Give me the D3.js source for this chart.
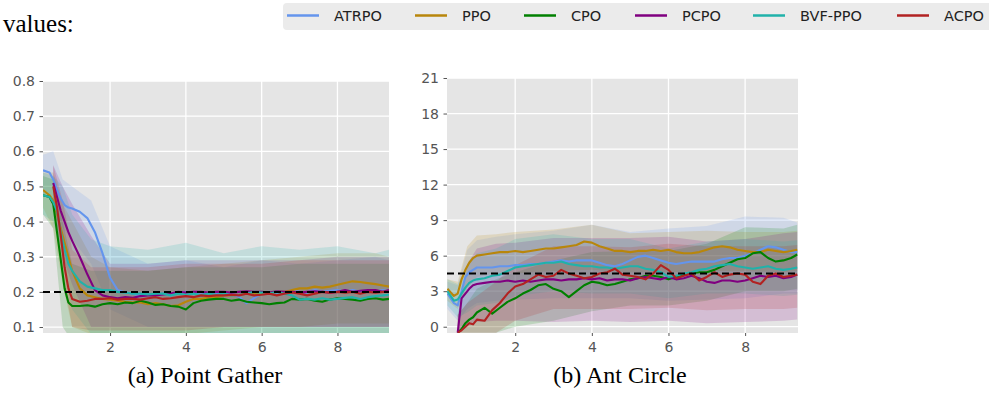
<!DOCTYPE html>
<html>
<head>
<meta charset="utf-8">
<script src="https://cdn.jsdelivr.net/npm/d3@7"></script>
<style>
body { margin: 0; background: #fff; }
</style>
</head>
<body onload="body_ready()">
<div id="container"></div>
<script>
// legend entries and colours
var methods = ["ATRPO", "PPO", "CPO", "PCPO", "BVF-PPO", "ACPO"];
var colors = ["#6495ed", "#b8860b", "#008000", "#800080", "#20b2aa", "#b22222"];

// x positions of the mean curves (both tasks)
var steps = [0.23, 0.4, 0.5, 0.6, 0.7, 0.8, 0.9, 1.0, 1.2, 1.4, 1.6, 1.8, 2.0, 2.2, 2.4, 2.6, 2.8, 3.0, 3.2, 3.4,
	3.6, 3.8, 4.0, 4.2, 4.4, 4.6, 4.8, 5.0, 5.2, 5.4, 5.6, 5.8, 6.0, 6.2, 6.4, 6.6, 6.8, 7.0, 7.2, 7.4,
	7.6, 7.8, 8.0, 8.2, 8.4, 8.6, 8.8, 9.0, 9.2, 9.36];
// x positions of the shaded bands
var band_steps = [0.23, 0.5, 0.75, 1.0, 1.5, 2.0, 3, 4, 5, 6, 7, 8, 9, 9.36];

// (a) Point Gather, mean curves
var gather_atrpo = [0.546, 0.54, 0.52, 0.49, 0.465, 0.447, 0.44, 0.437, 0.428, 0.41, 0.37, 0.31, 0.24, 0.205, 0.198, 0.195, 0.19, 0.193, 0.19, 0.195,
	0.19, 0.196, 0.2, 0.195, 0.198, 0.193, 0.196, 0.19, 0.195, 0.186, 0.168, 0.182, 0.195, 0.2, 0.198, 0.2, 0.205, 0.2, 0.198, 0.205,
	0.2, 0.203, 0.205, 0.2, 0.205, 0.2, 0.205, 0.2, 0.205, 0.2];
var gather_ppo = [0.49, 0.475, 0.46, 0.42, 0.38, 0.34, 0.3, 0.26, 0.21, 0.19, 0.185, 0.18, 0.178, 0.175, 0.172, 0.17, 0.17, 0.165, 0.168, 0.165,
	0.16, 0.162, 0.172, 0.18, 0.18, 0.185, 0.185, 0.19, 0.19, 0.192, 0.195, 0.195, 0.195, 0.198, 0.2, 0.2, 0.205, 0.21, 0.21, 0.215,
	0.212, 0.215, 0.22, 0.225, 0.23, 0.228, 0.225, 0.222, 0.218, 0.215];
var gather_cpo = [0.475, 0.47, 0.45, 0.37, 0.29, 0.21, 0.17, 0.16, 0.16, 0.162, 0.158, 0.165, 0.168, 0.165, 0.17, 0.168, 0.175, 0.17, 0.163, 0.165,
	0.16, 0.158, 0.15, 0.168, 0.175, 0.178, 0.18, 0.18, 0.175, 0.178, 0.172, 0.17, 0.168, 0.165, 0.168, 0.17, 0.18, 0.178, 0.18, 0.175,
	0.172, 0.178, 0.182, 0.18, 0.178, 0.175, 0.18, 0.182, 0.178, 0.18];
var gather_pcpo = [null, null, 0.51, 0.47, 0.43, 0.4, 0.37, 0.345, 0.3, 0.25, 0.205, 0.19, 0.185, 0.182, 0.185, 0.183, 0.188, 0.19, 0.19, 0.193,
	0.195, 0.2, 0.198, 0.2, 0.2, 0.198, 0.2, 0.2, 0.198, 0.2, 0.202, 0.2, 0.2, 0.198, 0.202, 0.2, 0.2, 0.198, 0.2, 0.202,
	0.2, 0.198, 0.2, 0.205, 0.2, 0.203, 0.205, 0.205, 0.2, 0.205];
var gather_bvf = [0.475, 0.47, 0.455, 0.43, 0.37, 0.32, 0.28, 0.26, 0.23, 0.215, 0.21, 0.205, 0.205, 0.2, 0.198, 0.195, 0.195, 0.193, 0.195, 0.195,
	0.19, 0.195, 0.192, 0.195, 0.19, 0.195, 0.192, 0.195, 0.19, 0.192, 0.195, 0.2, 0.198, 0.195, 0.2, 0.195, 0.19, 0.178, 0.18, 0.178,
	0.182, 0.178, 0.18, 0.183, 0.185, 0.18, 0.185, 0.188, 0.19, 0.192];
var gather_acpo = [null, null, 0.5, 0.44, 0.36, 0.27, 0.21, 0.18, 0.172, 0.175, 0.18, 0.18, 0.182, 0.178, 0.18, 0.18, 0.178, 0.182, 0.185, 0.18,
	0.182, 0.185, 0.188, 0.185, 0.19, 0.188, 0.19, 0.19, 0.192, 0.19, 0.195, 0.19, 0.192, 0.195, 0.19, 0.195, 0.198, 0.195, 0.19, 0.195,
	0.2, 0.198, 0.2, 0.198, 0.2, 0.195, 0.2, 0.198, 0.2, 0.2];

// (a) Point Gather, band bounds
var gather_atrpo_lo = [0.48, 0.46, 0.38, 0.35, 0.28, 0.15, 0.1, 0.1, 0.1, 0.1, 0.1, 0.1, 0.1, 0.1];
var gather_atrpo_hi = [0.59, 0.6, 0.52, 0.5, 0.46, 0.33, 0.28, 0.29, 0.27, 0.29, 0.28, 0.29, 0.3, 0.29];
var gather_ppo_lo = [0.44, 0.38, 0.22, 0.1, 0.08, 0.08, 0.08, 0.08, 0.09, 0.1, 0.1, 0.11, 0.11, 0.11];
var gather_ppo_hi = [0.54, 0.54, 0.45, 0.4, 0.3, 0.27, 0.26, 0.27, 0.28, 0.29, 0.3, 0.31, 0.31, 0.3];
var gather_cpo_lo = [0.42, 0.38, 0.1, 0.06, 0.06, 0.06, 0.07, 0.07, 0.08, 0.08, 0.08, 0.08, 0.08, 0.08];
var gather_cpo_hi = [0.53, 0.52, 0.4, 0.28, 0.26, 0.26, 0.26, 0.27, 0.27, 0.27, 0.28, 0.28, 0.28, 0.28];
var gather_pcpo_lo = [null, 0.45, 0.3, 0.22, 0.1, 0.1, 0.1, 0.1, 0.1, 0.1, 0.1, 0.1, 0.1, 0.1];
var gather_pcpo_hi = [null, 0.56, 0.5, 0.45, 0.36, 0.28, 0.28, 0.29, 0.29, 0.29, 0.29, 0.3, 0.3, 0.3];
var gather_bvf_lo = [0.42, 0.4, 0.28, 0.15, 0.08, 0.07, 0.07, 0.07, 0.07, 0.07, 0.07, 0.07, 0.07, 0.07];
var gather_bvf_hi = [0.54, 0.53, 0.5, 0.42, 0.35, 0.33, 0.32, 0.34, 0.31, 0.33, 0.32, 0.33, 0.31, 0.32];
var gather_acpo_lo = [null, 0.45, 0.25, 0.1, 0.09, 0.09, 0.09, 0.09, 0.1, 0.1, 0.1, 0.1, 0.1, 0.1];
var gather_acpo_hi = [null, 0.56, 0.46, 0.32, 0.27, 0.27, 0.27, 0.28, 0.28, 0.28, 0.29, 0.29, 0.29, 0.29];

// (b) Ant Circle, mean curves
var ant_atrpo = [2.8, 2.0, 1.8, 3.0, 4.2, 4.6, 4.8, 5.0, 5.0, 5.0, 5.1, 5.1, 5.2, 5.2, 5.3, 5.3, 5.4, 5.5, 5.6, 5.5,
	5.6, 5.6, 5.6, 5.4, 5.2, 5.1, 5.3, 5.6, 5.9, 6.0, 5.8, 5.6, 5.4, 5.3, 5.4, 5.5, 5.5, 5.5, 5.5, 5.7,
	5.8, 5.8, 6.0, 6.2, 6.5, 6.8, 6.7, 6.5, 6.3, 6.3];
var ant_ppo = [3.2, 2.6, 2.8, 4.0, 4.8, 5.4, 5.8, 6.0, 6.1, 6.2, 6.3, 6.3, 6.4, 6.3, 6.4, 6.5, 6.6, 6.6, 6.7, 6.8,
	6.9, 7.2, 7.1, 6.8, 6.6, 6.4, 6.4, 6.3, 6.4, 6.4, 6.5, 6.4, 6.5, 6.3, 6.2, 6.2, 6.3, 6.5, 6.7, 6.8,
	6.7, 6.5, 6.4, 6.3, 6.3, 6.5, 6.4, 6.3, 6.4, 6.5];
var ant_cpo = [null, null, -0.5, -0.2, 0.3, 0.6, 0.8, 1.2, 1.6, 1.1, 1.6, 2.1, 2.4, 2.8, 3.1, 3.5, 3.6, 3.2, 3.0, 2.5,
	3.0, 3.5, 3.8, 3.7, 3.5, 3.6, 3.8, 4.0, 4.1, 4.3, 4.3, 4.2, 4.0, 4.2, 4.4, 4.5, 4.6, 4.6, 4.8, 5.1,
	5.4, 5.7, 5.8, 6.2, 6.3, 5.8, 5.5, 5.6, 5.8, 6.1];
var ant_pcpo = [null, null, -0.5, 2.4, 2.8, 3.2, 3.5, 3.6, 3.7, 3.8, 3.8, 3.9, 3.8, 3.9, 3.8, 3.9, 4.0, 4.0, 3.9, 4.0,
	4.0, 4.1, 4.0, 4.1, 3.9, 4.0, 4.0, 3.9, 4.1, 4.2, 4.1, 4.0, 4.2, 4.0, 4.1, 4.3, 4.1, 3.8, 3.7, 3.9,
	3.9, 3.8, 3.9, 4.1, 4.3, 4.2, 4.3, 4.1, 4.2, 4.4];
var ant_bvf = [3.0, 2.2, 2.3, 2.8, 3.3, 3.7, 3.9, 4.0, 4.1, 4.3, 4.4, 4.7, 5.0, 5.1, 5.2, 5.3, 5.4, 5.4, 5.5, 5.3,
	5.2, 5.1, 5.1, 5.0, 5.0, 4.9, 5.0, 5.1, 5.1, 4.9, 4.8, 4.6, 4.2, 4.3, 4.5, 4.6, 4.8, 4.9, 5.1, 5.2,
	5.3, 5.1, 5.0, 4.9, 5.0, 5.1, 4.9, 4.8, 4.9, 5.0];
var ant_acpo = [null, null, -0.5, -0.3, 0.0, 0.3, 0.2, 0.6, 0.5, 1.4, 2.0, 2.8, 3.4, 3.6, 4.0, 4.4, 4.2, 4.3, 4.8, 4.5,
	4.3, 4.1, 4.2, 4.5, 4.6, 4.9, 4.4, 4.3, 4.2, 4.0, 4.5, 5.2, 4.8, 4.1, 4.3, 4.5, 3.9, 4.2, 4.6, 4.2,
	4.4, 4.5, 4.4, 3.8, 3.6, 4.3, 4.5, 4.2, 4.3, 4.4];

// (b) Ant Circle, band bounds
var ant_atrpo_lo = [1.5, 0.5, 1.5, 2.0, 2.2, 2.3, 2.4, 2.4, 2.4, 2.2, 2.3, 2.4, 2.8, 2.8];
var ant_atrpo_hi = [3.8, 3.5, 6.5, 7.3, 7.6, 7.8, 8.1, 8.6, 8.0, 8.3, 8.5, 9.3, 9.2, 8.8];
var ant_ppo_lo = [2.2, 1.5, 3.3, 4.2, 4.5, 4.5, 4.7, 4.8, 4.6, 4.6, 4.7, 4.7, 4.6, 4.7];
var ant_ppo_hi = [4.0, 3.8, 6.8, 7.7, 7.8, 8.0, 8.2, 8.6, 7.9, 8.0, 8.1, 8.0, 8.0, 8.1];
var ant_cpo_lo = [null, -0.5, -0.5, -0.5, -0.5, 0.0, 0.5, 1.3, 1.8, 1.8, 2.2, 3.0, 3.0, 3.2];
var ant_cpo_hi = [null, 1.0, 2.0, 3.2, 4.0, 4.6, 5.6, 6.3, 6.4, 6.4, 7.0, 8.4, 8.3, 8.6];
var ant_pcpo_lo = [null, -0.5, 0.2, 0.4, 0.5, 0.5, 0.4, 0.5, 0.4, 0.5, 0.3, 0.4, 0.5, 0.6];
var ant_pcpo_hi = [null, 1.0, 5.3, 6.6, 7.0, 7.1, 7.5, 7.5, 7.5, 7.6, 7.2, 7.4, 7.9, 8.0];
var ant_bvf_lo = [1.8, 0.8, 1.2, 1.8, 2.0, 2.6, 3.0, 2.8, 2.8, 2.4, 2.8, 2.8, 2.6, 2.7];
var ant_bvf_hi = [4.0, 3.6, 5.2, 6.2, 6.6, 7.4, 7.8, 7.4, 7.4, 6.6, 7.2, 7.4, 7.2, 7.3];
var ant_acpo_lo = [null, -0.5, -0.5, -0.5, -0.5, 0.5, 1.5, 1.5, 1.5, 1.6, 1.4, 1.5, 1.5, 1.6];
var ant_acpo_hi = [null, 1.0, 2.0, 2.6, 3.8, 5.2, 6.8, 6.8, 6.7, 7.0, 6.8, 6.8, 6.8, 6.9];

// ticks and reference (threshold) values
var x_ticks = [2, 4, 6, 8];
var gather_y_ticks = [0.1, 0.2, 0.3, 0.4, 0.5, 0.6, 0.7, 0.8];
var ant_y_ticks = [0, 3, 6, 9, 12, 15, 18, 21];
var gather_limit = 0.2;
var ant_limit = 4.5;

function draw_panel(svg, p)
{// one subplot: grey panel, grid, bands, means, threshold
	var x = d3.scaleLinear().domain(p.xdom).range([p.left, p.right]);
	var y = d3.scaleLinear().domain(p.ydom).range([p.bottom, p.top]);

	svg.append("clipPath").attr("id", p.id)
		.append("rect")
			.attr("x", p.left).attr("y", p.top)
			.attr("width", p.right - p.left).attr("height", p.bottom - p.top);

	svg.append("rect") // panel background
		.attr("x", p.left).attr("y", p.top)
		.attr("width", p.right - p.left).attr("height", p.bottom - p.top)
		.attr("fill", "#e5e5e5");

	var grid = svg.append("g").attr("stroke", "#fff").attr("stroke-width", 1.3);
	grid.selectAll(".gx").data(x_ticks).enter().append("line")
		.attr("x1", (d) => x(d)).attr("x2", (d) => x(d))
		.attr("y1", p.top).attr("y2", p.bottom);
	grid.selectAll(".gy").data(p.yticks).enter().append("line")
		.attr("x1", p.left).attr("x2", p.right)
		.attr("y1", (d) => y(d)).attr("y2", (d) => y(d));

	var plot = svg.append("g").attr("clip-path", "url(#" + p.id + ")");

	var area = d3.area()
		.defined((d) => d[1] != null)
		.x((d) => x(d[0])).y0((d) => y(d[1])).y1((d) => y(d[2]));
	plot.selectAll(".band").data(p.bands).enter().append("path")
		.attr("d", (b) => area(band_steps.map((s, i) => [s, b.lo[i], b.hi[i]])))
		.attr("fill", (b, i) => colors[i])
		.attr("fill-opacity", 0.17);

	var line = d3.line()
		.defined((d) => d[1] != null)
		.x((d) => x(d[0])).y((d) => y(d[1]));
	plot.selectAll(".mean").data(p.means).enter().append("path")
		.attr("d", (m) => line(steps.map((s, i) => [s, m[i]])))
		.attr("fill", "none")
		.attr("stroke", (m, i) => colors[i])
		.attr("stroke-width", 2.1)
		.attr("stroke-linejoin", "round");

	plot.append("line") // threshold
		.attr("x1", p.left).attr("x2", p.right)
		.attr("y1", y(p.limit)).attr("y2", y(p.limit))
		.attr("stroke", "#000").attr("stroke-width", 2)
		.attr("stroke-dasharray", "7,4");

	var ax = svg.append("g")
		.attr("transform", "translate(0," + p.bottom + ")")
		.call(d3.axisBottom(x).tickValues(x_ticks).tickSize(3).tickPadding(6).tickFormat(d3.format("d")));
	var ay = svg.append("g")
		.attr("transform", "translate(" + p.left + ",0)")
		.call(d3.axisLeft(y).tickValues(p.yticks).tickSize(3.5).tickPadding(4.5).tickFormat(d3.format(p.yfmt)));
	[ax, ay].forEach(function(a) {
		a.select(".domain").remove();
		a.selectAll(".tick line").attr("stroke", "#555");
		a.selectAll(".tick text")
			.attr("fill", "#555")
			.style("font-family", "DejaVu Sans")
			.style("font-size", "14px");
	});

	svg.append("text")
		.attr("x", p.cap_x).attr("y", 383)
		.attr("text-anchor", "middle")
		.style("font-family", "Liberation Serif")
		.style("font-size", "24px")
		.text(p.caption);
}

function body_ready()
{
	var svg = d3.select("#container").append("svg")
		.attr("width", 989)
		.attr("height", 400);

	svg.append("text") // leftover of the paper text above
		.attr("x", 3).attr("y", 32)
		.style("font-family", "Liberation Serif")
		.style("font-size", "25px")
		.text("values:");

	// legend
	var legend_x = [287, 415, 524, 635, 753, 897];
	svg.append("rect")
		.attr("x", 283).attr("y", 3).attr("width", 730).attr("height", 27)
		.attr("rx", 4).attr("fill", "#ebebeb");
	var items = svg.selectAll(".item").data(methods).enter().append("g");
	items.append("line")
		.attr("x1", (d, i) => legend_x[i]).attr("x2", (d, i) => legend_x[i] + 32)
		.attr("y1", 15.5).attr("y2", 15.5)
		.attr("stroke", (d, i) => colors[i]).attr("stroke-width", 2.5);
	items.append("text")
		.attr("x", (d, i) => legend_x[i] + 47).attr("y", 20.5)
		.style("font-family", "DejaVu Sans")
		.style("font-size", "14.5px")
		.attr("fill", "#222")
		.text((d) => d);

	draw_panel(svg, {
		id: "clip_a", left: 43, right: 389, top: 81, bottom: 333,
		xdom: [0.23, 9.36], ydom: [0.083, 0.8],
		yticks: gather_y_ticks, yfmt: ".1f", limit: gather_limit,
		means: [gather_atrpo, gather_ppo, gather_cpo, gather_pcpo, gather_bvf, gather_acpo],
		bands: [
			{lo: gather_atrpo_lo, hi: gather_atrpo_hi},
			{lo: gather_ppo_lo, hi: gather_ppo_hi},
			{lo: gather_cpo_lo, hi: gather_cpo_hi},
			{lo: gather_pcpo_lo, hi: gather_pcpo_hi},
			{lo: gather_bvf_lo, hi: gather_bvf_hi},
			{lo: gather_acpo_lo, hi: gather_acpo_hi}],
		caption: "(a) Point Gather", cap_x: 205
	});

	draw_panel(svg, {
		id: "clip_b", left: 447, right: 798, top: 78, bottom: 333,
		xdom: [0.22, 9.38], ydom: [-0.53, 21],
		yticks: ant_y_ticks, yfmt: "d", limit: ant_limit,
		means: [ant_atrpo, ant_ppo, ant_cpo, ant_pcpo, ant_bvf, ant_acpo],
		bands: [
			{lo: ant_atrpo_lo, hi: ant_atrpo_hi},
			{lo: ant_ppo_lo, hi: ant_ppo_hi},
			{lo: ant_cpo_lo, hi: ant_cpo_hi},
			{lo: ant_pcpo_lo, hi: ant_pcpo_hi},
			{lo: ant_bvf_lo, hi: ant_bvf_hi},
			{lo: ant_acpo_lo, hi: ant_acpo_hi}],
		caption: "(b) Ant Circle", cap_x: 620
	});
}
</script>
</body>
</html>
